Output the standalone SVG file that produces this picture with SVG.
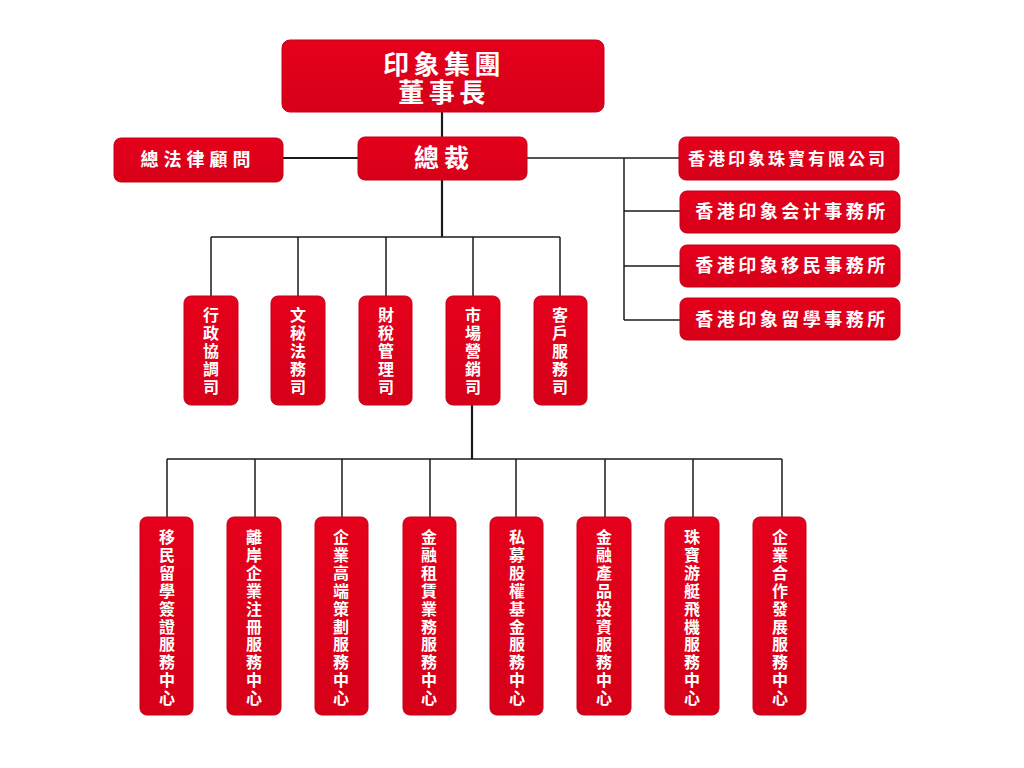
<svg xmlns="http://www.w3.org/2000/svg" width="1024" height="768" viewBox="0 0 1024 768">
<defs>
<linearGradient id="rg" x1="0" y1="0" x2="0" y2="1">
<stop offset="0" stop-color="#e6001c"/>
<stop offset="1" stop-color="#d60019"/>
</linearGradient>
<style>
.box{fill:url(#rg);stroke:#c40018;stroke-width:1}
.t{fill:#fff;font-family:"Noto Sans CJK TC","Noto Sans CJK SC",sans-serif;font-weight:bold;text-anchor:middle}
.v{font-size:16px}
.ln{stroke:#1a1a1a;stroke-width:1.5;fill:none}
.tk{stroke:#1a1a1a;stroke-width:2.2;fill:none}
</style>
</defs>
<rect width="1024" height="768" fill="#fff"/>
<g id="connectors">
<line class="tk" x1="442" y1="112" x2="442" y2="138"/>
<line class="tk" x1="283" y1="158" x2="358" y2="158"/>
<line class="ln" x1="527" y1="158" x2="624" y2="158"/>
<line class="ln" x1="624" y1="158" x2="624" y2="320"/>
<line class="ln" x1="624" y1="158" x2="680" y2="158"/>
<line class="ln" x1="624" y1="211" x2="680" y2="211"/>
<line class="ln" x1="624" y1="266" x2="680" y2="266"/>
<line class="ln" x1="624" y1="320" x2="680" y2="320"/>
<line class="tk" x1="442" y1="180" x2="442" y2="237"/>
<line class="ln" x1="211" y1="237" x2="560" y2="237"/>
<line class="ln" x1="211" y1="237" x2="211" y2="296"/>
<line class="ln" x1="298" y1="237" x2="298" y2="296"/>
<line class="ln" x1="386" y1="237" x2="386" y2="296"/>
<line class="ln" x1="473" y1="237" x2="473" y2="296"/>
<line class="ln" x1="560" y1="237" x2="560" y2="296"/>
<line class="tk" x1="472" y1="405" x2="472" y2="459"/>
<line class="ln" x1="167" y1="459" x2="782" y2="459"/>
<line class="ln" x1="167" y1="459" x2="167" y2="517"/>
<line class="ln" x1="255" y1="459" x2="255" y2="517"/>
<line class="ln" x1="342" y1="459" x2="342" y2="517"/>
<line class="ln" x1="430" y1="459" x2="430" y2="517"/>
<line class="ln" x1="516" y1="459" x2="516" y2="517"/>
<line class="ln" x1="605" y1="459" x2="605" y2="517"/>
<line class="ln" x1="693" y1="459" x2="693" y2="517"/>
<line class="ln" x1="782" y1="459" x2="782" y2="517"/>
</g>
<g id="chairman">
<rect class="box" x="282" y="40" width="322" height="72" rx="8"/>
<text class="t" x="444" y="74" font-size="26" font-weight="900" letter-spacing="4.5">印象集團</text>
<text class="t" x="444" y="102" font-size="26" font-weight="900" letter-spacing="4.5">董事長</text>
</g>
<g id="ceo">
<rect class="box" x="358" y="137" width="169" height="43" rx="7"/>
<text class="t" x="444" y="167" font-size="25" letter-spacing="5">總裁</text>
</g>
<g id="legal">
<rect class="box" x="114" y="138" width="169" height="44" rx="7"/>
<text class="t" x="198" y="166" font-size="18" letter-spacing="5">總法律顧問</text>
</g>
<g id="r1">
<rect class="box" x="679" y="137" width="220" height="43" rx="7"/>
<text class="t" x="788" y="165" font-size="17" letter-spacing="3">香港印象珠寶有限公司</text>
</g>
<g id="r2">
<rect class="box" x="680" y="191" width="220" height="42" rx="7"/>
<text class="t" x="792" y="218" font-size="18" letter-spacing="3.5">香港印象会计事務所</text>
</g>
<g id="r3">
<rect class="box" x="680" y="245" width="220" height="42" rx="7"/>
<text class="t" x="792" y="272" font-size="18" letter-spacing="3.5">香港印象移民事務所</text>
</g>
<g id="r4">
<rect class="box" x="680" y="298" width="220" height="42" rx="7"/>
<text class="t" x="792" y="326" font-size="18" letter-spacing="3.5">香港印象留學事務所</text>
</g>
<g id="m1">
<rect class="box" x="184" y="296" width="54" height="109" rx="7"/>
<text class="t v"><tspan x="211" y="321">行</tspan><tspan x="211" dy="18">政</tspan><tspan x="211" dy="18">協</tspan><tspan x="211" dy="18">調</tspan><tspan x="211" dy="18">司</tspan></text>
</g>
<g id="m2">
<rect class="box" x="271" y="296" width="54" height="109" rx="7"/>
<text class="t v"><tspan x="298" y="321">文</tspan><tspan x="298" dy="18">秘</tspan><tspan x="298" dy="18">法</tspan><tspan x="298" dy="18">務</tspan><tspan x="298" dy="18">司</tspan></text>
</g>
<g id="m3">
<rect class="box" x="359" y="296" width="53" height="109" rx="7"/>
<text class="t v"><tspan x="386" y="321">財</tspan><tspan x="386" dy="18">稅</tspan><tspan x="386" dy="18">管</tspan><tspan x="386" dy="18">理</tspan><tspan x="386" dy="18">司</tspan></text>
</g>
<g id="m4">
<rect class="box" x="446" y="296" width="54" height="109" rx="7"/>
<text class="t v"><tspan x="473" y="321">市</tspan><tspan x="473" dy="18">場</tspan><tspan x="473" dy="18">營</tspan><tspan x="473" dy="18">銷</tspan><tspan x="473" dy="18">司</tspan></text>
</g>
<g id="m5">
<rect class="box" x="534" y="296" width="53" height="109" rx="7"/>
<text class="t v"><tspan x="560" y="321">客</tspan><tspan x="560" dy="18">戶</tspan><tspan x="560" dy="18">服</tspan><tspan x="560" dy="18">務</tspan><tspan x="560" dy="18">司</tspan></text>
</g>
<g id="b1">
<rect class="box" x="140" y="517" width="53" height="198" rx="7"/>
<text class="t v"><tspan x="167" y="543">移</tspan><tspan x="167" dy="17.9">民</tspan><tspan x="167" dy="17.9">留</tspan><tspan x="167" dy="17.9">學</tspan><tspan x="167" dy="17.9">簽</tspan><tspan x="167" dy="17.9">證</tspan><tspan x="167" dy="17.9">服</tspan><tspan x="167" dy="17.9">務</tspan><tspan x="167" dy="17.9">中</tspan><tspan x="167" dy="17.9">心</tspan></text>
</g>
<g id="b2">
<rect class="box" x="227" y="517" width="54" height="198" rx="7"/>
<text class="t v"><tspan x="254" y="543">離</tspan><tspan x="254" dy="17.9">岸</tspan><tspan x="254" dy="17.9">企</tspan><tspan x="254" dy="17.9">業</tspan><tspan x="254" dy="17.9">注</tspan><tspan x="254" dy="17.9">冊</tspan><tspan x="254" dy="17.9">服</tspan><tspan x="254" dy="17.9">務</tspan><tspan x="254" dy="17.9">中</tspan><tspan x="254" dy="17.9">心</tspan></text>
</g>
<g id="b3">
<rect class="box" x="315" y="517" width="53" height="198" rx="7"/>
<text class="t v"><tspan x="341" y="543">企</tspan><tspan x="341" dy="17.9">業</tspan><tspan x="341" dy="17.9">高</tspan><tspan x="341" dy="17.9">端</tspan><tspan x="341" dy="17.9">策</tspan><tspan x="341" dy="17.9">劃</tspan><tspan x="341" dy="17.9">服</tspan><tspan x="341" dy="17.9">務</tspan><tspan x="341" dy="17.9">中</tspan><tspan x="341" dy="17.9">心</tspan></text>
</g>
<g id="b4">
<rect class="box" x="403" y="517" width="53" height="198" rx="7"/>
<text class="t v"><tspan x="429" y="543">金</tspan><tspan x="429" dy="17.9">融</tspan><tspan x="429" dy="17.9">租</tspan><tspan x="429" dy="17.9">賃</tspan><tspan x="429" dy="17.9">業</tspan><tspan x="429" dy="17.9">務</tspan><tspan x="429" dy="17.9">服</tspan><tspan x="429" dy="17.9">務</tspan><tspan x="429" dy="17.9">中</tspan><tspan x="429" dy="17.9">心</tspan></text>
</g>
<g id="b5">
<rect class="box" x="490" y="517" width="53" height="198" rx="7"/>
<text class="t v"><tspan x="517" y="543">私</tspan><tspan x="517" dy="17.9">募</tspan><tspan x="517" dy="17.9">股</tspan><tspan x="517" dy="17.9">權</tspan><tspan x="517" dy="17.9">基</tspan><tspan x="517" dy="17.9">金</tspan><tspan x="517" dy="17.9">服</tspan><tspan x="517" dy="17.9">務</tspan><tspan x="517" dy="17.9">中</tspan><tspan x="517" dy="17.9">心</tspan></text>
</g>
<g id="b6">
<rect class="box" x="577" y="517" width="54" height="198" rx="7"/>
<text class="t v"><tspan x="604" y="543">金</tspan><tspan x="604" dy="17.9">融</tspan><tspan x="604" dy="17.9">產</tspan><tspan x="604" dy="17.9">品</tspan><tspan x="604" dy="17.9">投</tspan><tspan x="604" dy="17.9">資</tspan><tspan x="604" dy="17.9">服</tspan><tspan x="604" dy="17.9">務</tspan><tspan x="604" dy="17.9">中</tspan><tspan x="604" dy="17.9">心</tspan></text>
</g>
<g id="b7">
<rect class="box" x="665" y="517" width="54" height="198" rx="7"/>
<text class="t v"><tspan x="692" y="543">珠</tspan><tspan x="692" dy="17.9">寶</tspan><tspan x="692" dy="17.9">游</tspan><tspan x="692" dy="17.9">艇</tspan><tspan x="692" dy="17.9">飛</tspan><tspan x="692" dy="17.9">機</tspan><tspan x="692" dy="17.9">服</tspan><tspan x="692" dy="17.9">務</tspan><tspan x="692" dy="17.9">中</tspan><tspan x="692" dy="17.9">心</tspan></text>
</g>
<g id="b8">
<rect class="box" x="753" y="517" width="53" height="198" rx="7"/>
<text class="t v"><tspan x="780" y="543">企</tspan><tspan x="780" dy="17.9">業</tspan><tspan x="780" dy="17.9">合</tspan><tspan x="780" dy="17.9">作</tspan><tspan x="780" dy="17.9">發</tspan><tspan x="780" dy="17.9">展</tspan><tspan x="780" dy="17.9">服</tspan><tspan x="780" dy="17.9">務</tspan><tspan x="780" dy="17.9">中</tspan><tspan x="780" dy="17.9">心</tspan></text>
</g>
</svg>
